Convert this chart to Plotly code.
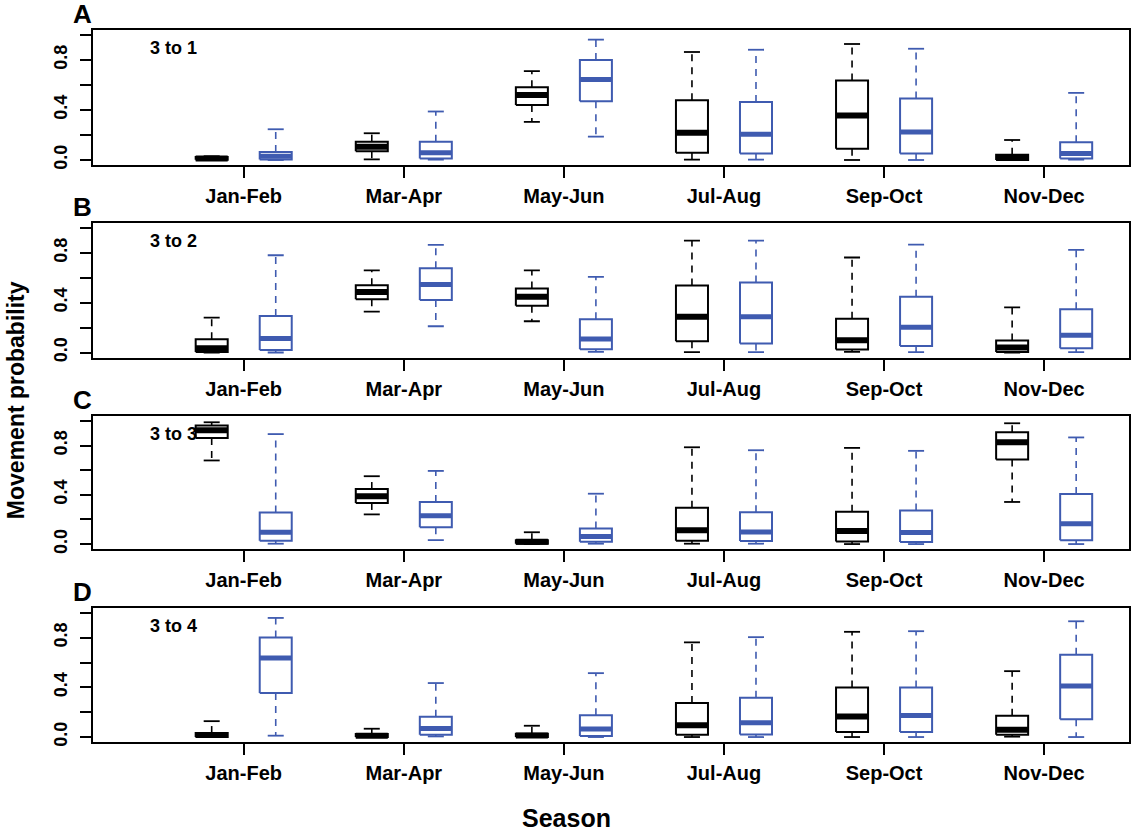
import plotly.graph_objects as go

# ---------------- data ----------------
seasons = ["Jan-Feb", "Mar-Apr", "May-Jun", "Jul-Aug", "Sep-Oct", "Nov-Dec"]
panel_letters = ["A", "B", "C", "D"]
panel_labels = ["3 to 1", "3 to 2", "3 to 3", "3 to 4"]

# Panel A (3 to 1) - black series
a_blk_min = [0.0, 0.005, 0.305, 0.003, 0.0, 0.0]
a_blk_q1 = [0.003, 0.07, 0.441, 0.059, 0.091, 0.0]
a_blk_med = [0.012, 0.107, 0.521, 0.219, 0.356, 0.019]
a_blk_q3 = [0.025, 0.147, 0.583, 0.479, 0.636, 0.043]
a_blk_max = [0.03, 0.214, 0.711, 0.864, 0.928, 0.16]
# Panel A - blue series
a_blu_min = [0.0, 0.003, 0.187, 0.003, 0.0, 0.003]
a_blu_q1 = [0.005, 0.013, 0.47, 0.053, 0.053, 0.013]
a_blu_med = [0.03, 0.059, 0.644, 0.206, 0.225, 0.053]
a_blu_q3 = [0.064, 0.147, 0.8, 0.465, 0.492, 0.142]
a_blu_max = [0.246, 0.388, 0.963, 0.882, 0.89, 0.537]

# Panel B (3 to 2)
b_blk_min = [0.0, 0.328, 0.251, 0.003, 0.005, 0.0]
b_blk_q1 = [0.005, 0.427, 0.376, 0.091, 0.024, 0.005]
b_blk_med = [0.035, 0.485, 0.448, 0.288, 0.099, 0.04]
b_blk_q3 = [0.107, 0.541, 0.515, 0.539, 0.272, 0.096]
b_blk_max = [0.28, 0.659, 0.659, 0.899, 0.763, 0.363]
b_blu_min = [0.0, 0.211, 0.005, 0.003, 0.003, 0.003]
b_blu_q1 = [0.021, 0.421, 0.027, 0.072, 0.053, 0.035]
b_blu_med = [0.112, 0.547, 0.109, 0.288, 0.203, 0.139]
b_blu_q3 = [0.293, 0.677, 0.267, 0.563, 0.448, 0.347]
b_blu_max = [0.781, 0.864, 0.608, 0.899, 0.867, 0.824]

# Panel C (3 to 3)
c_blk_min = [0.679, 0.241, 0.0, 0.003, 0.0, 0.342]
c_blk_q1 = [0.861, 0.334, 0.003, 0.027, 0.021, 0.687]
c_blk_med = [0.925, 0.388, 0.019, 0.112, 0.107, 0.826]
c_blk_q3 = [0.963, 0.447, 0.032, 0.294, 0.262, 0.909]
c_blk_max = [0.989, 0.551, 0.096, 0.786, 0.781, 0.981]
c_blu_min = [0.003, 0.032, 0.003, 0.003, 0.0, 0.0]
c_blu_q1 = [0.027, 0.136, 0.019, 0.024, 0.016, 0.032]
c_blu_med = [0.096, 0.23, 0.061, 0.099, 0.094, 0.166]
c_blu_q3 = [0.257, 0.342, 0.126, 0.259, 0.273, 0.406]
c_blu_max = [0.893, 0.594, 0.409, 0.762, 0.757, 0.866]

# Panel D (3 to 4)
d_blk_min = [0.0, 0.0, 0.0, 0.0, 0.0, 0.003]
d_blk_q1 = [0.0, 0.0, 0.0, 0.019, 0.04, 0.019]
d_blk_med = [0.016, 0.011, 0.013, 0.096, 0.165, 0.059]
d_blk_q3 = [0.032, 0.024, 0.027, 0.275, 0.4, 0.171]
d_blk_max = [0.128, 0.067, 0.091, 0.763, 0.848, 0.531]
d_blu_min = [0.011, 0.005, 0.0, 0.0, 0.0, 0.0]
d_blu_q1 = [0.355, 0.019, 0.008, 0.021, 0.04, 0.144]
d_blu_med = [0.637, 0.069, 0.064, 0.115, 0.173, 0.411]
d_blu_q3 = [0.803, 0.163, 0.176, 0.317, 0.4, 0.664]
d_blu_max = [0.96, 0.435, 0.515, 0.805, 0.853, 0.933]

y_tickvals = [0.0, 0.2, 0.4, 0.6, 0.8, 1.0]
y_ticktext = ["0.0", "", "0.4", "", "0.8", ""]

# ---------------- styling ----------------
W, H = 1134, 832
ML, MR, MT, MB = 93, 3, 30, 90
FONT = "Liberation Sans, Arial, sans-serif"
BLACK = "#000000"
BLUE = "#3F5BB0"
HALF_W = 0.1    # half box width (x units)
CAP_W = 0.05    # half cap width
OFFSET = 0.2    # group offset from category centre

panels = [
    ((a_blk_min, a_blk_q1, a_blk_med, a_blk_q3, a_blk_max),
     (a_blu_min, a_blu_q1, a_blu_med, a_blu_q3, a_blu_max)),
    ((b_blk_min, b_blk_q1, b_blk_med, b_blk_q3, b_blk_max),
     (b_blu_min, b_blu_q1, b_blu_med, b_blu_q3, b_blu_max)),
    ((c_blk_min, c_blk_q1, c_blk_med, c_blk_q3, c_blk_max),
     (c_blu_min, c_blu_q1, c_blu_med, c_blu_q3, c_blu_max)),
    ((d_blk_min, d_blk_q1, d_blk_med, d_blk_q3, d_blk_max),
     (d_blu_min, d_blu_q1, d_blu_med, d_blu_q3, d_blu_max)),
]

# panel pixel extents (top, bottom)
panel_px = [(30, 165), (223, 357.5), (416, 549), (608, 742)]
plot_h = H - MT - MB
plot_w = W - ML - MR


def py(p):
    return (H - MB - p) / plot_h


def px(p):
    return (p - ML) / plot_w


fig = go.Figure()


def add_boxes(stats, offset, color, xa, ya, med_w):
    lo, q1, md, q3, hi = stats
    bx, by, mx, my, wx, wy, cx, cy = [], [], [], [], [], [], [], []
    for j in range(len(seasons)):
        c = j + 1 + offset
        x0, x1 = c - HALF_W, c + HALF_W
        bx += [x0, x1, x1, x0, x0, None]
        by += [q1[j], q1[j], q3[j], q3[j], q1[j], None]
        mx += [x0, x1, None]
        my += [md[j], md[j], None]
        wx += [c, c, None, c, c, None]
        wy += [q3[j], hi[j], None, q1[j], lo[j], None]
        cx += [c - CAP_W, c + CAP_W, None, c - CAP_W, c + CAP_W, None]
        cy += [hi[j], hi[j], None, lo[j], lo[j], None]
    common = dict(xaxis=xa, yaxis=ya, mode="lines", showlegend=False, hoverinfo="skip")
    fig.add_trace(go.Scatter(x=wx, y=wy, line=dict(color=color, width=1.6, dash="7px,6px"), **common))
    fig.add_trace(go.Scatter(x=cx, y=cy, line=dict(color=color, width=1.8), **common))
    fig.add_trace(go.Scatter(x=bx, y=by, line=dict(color=color, width=2), **common))
    fig.add_trace(go.Scatter(x=mx, y=my, line=dict(color=color, width=med_w), **common))


layout = dict(
    width=W, height=H,
    margin=dict(l=ML, r=MR, t=MT, b=MB),
    paper_bgcolor="white", plot_bgcolor="white",
    font=dict(family=FONT, color="black"),
    showlegend=False,
)

annotations = []
for i, (blk, blu) in enumerate(panels):
    k = "" if i == 0 else str(i + 1)
    xa, ya = "x" + k, "y" + k
    add_boxes(blk, -OFFSET, BLACK, xa, ya, 6)
    add_boxes(blu, OFFSET, BLUE, xa, ya, 5)
    top, bot = panel_px[i]
    layout["xaxis" + k] = dict(
        domain=[0, 1], anchor=ya, range=[0.0586, 6.53],
        tickmode="array", tickvals=list(range(1, 7)), ticktext=seasons,
        ticks="outside", ticklen=11, tickwidth=1.5, tickcolor="black",
        showline=True, mirror=True, linecolor="black", linewidth=2,
        showgrid=False, zeroline=False, ticklabelstandoff=1,
        tickfont=dict(family=FONT, size=20, weight="bold", color="black"),
    )
    layout["yaxis" + k] = dict(
        domain=[py(bot), py(top)], anchor=xa, range=[-0.04, 1.04],
        tickmode="array", tickvals=y_tickvals, ticktext=y_ticktext,
        ticks="outside", ticklen=11, tickwidth=1.5, tickcolor="black",
        tickangle=-90, showline=True, mirror=True, linecolor="black", linewidth=2,
        showgrid=False, zeroline=False, ticklabelstandoff=6,
        tickfont=dict(family=FONT, size=18, weight="bold", color="black"),
    )
    annotations.append(dict(
        xref="paper", yref="paper", x=px(82), y=py(top - 16),
        text="<b>%s</b>" % panel_letters[i], showarrow=False,
        xanchor="center", yanchor="middle",
        font=dict(family=FONT, size=26, color="black"),
    ))
    annotations.append(dict(
        xref=xa, yref=ya, x=0.405, y=0.895,
        text="<b>%s</b>" % panel_labels[i], showarrow=False,
        xanchor="left", yanchor="middle",
        font=dict(family=FONT, size=18, color="black"),
    ))

annotations.append(dict(
    xref="paper", yref="paper", x=px(16), y=py(400),
    text="<b>Movement probability</b>", showarrow=False, textangle=-90,
    xanchor="center", yanchor="middle",
    font=dict(family=FONT, size=23, color="black"),
))
annotations.append(dict(
    xref="paper", yref="paper", x=px(567), y=py(818),
    text="<b>Season</b>", showarrow=False,
    xanchor="center", yanchor="middle",
    font=dict(family=FONT, size=25, color="black"),
))
layout["annotations"] = annotations
fig.update_layout(**layout)

fig.write_html(
    "out.html",
    config={"displayModeBar": False},
    post_script="document.body.style.margin='0';",
)
